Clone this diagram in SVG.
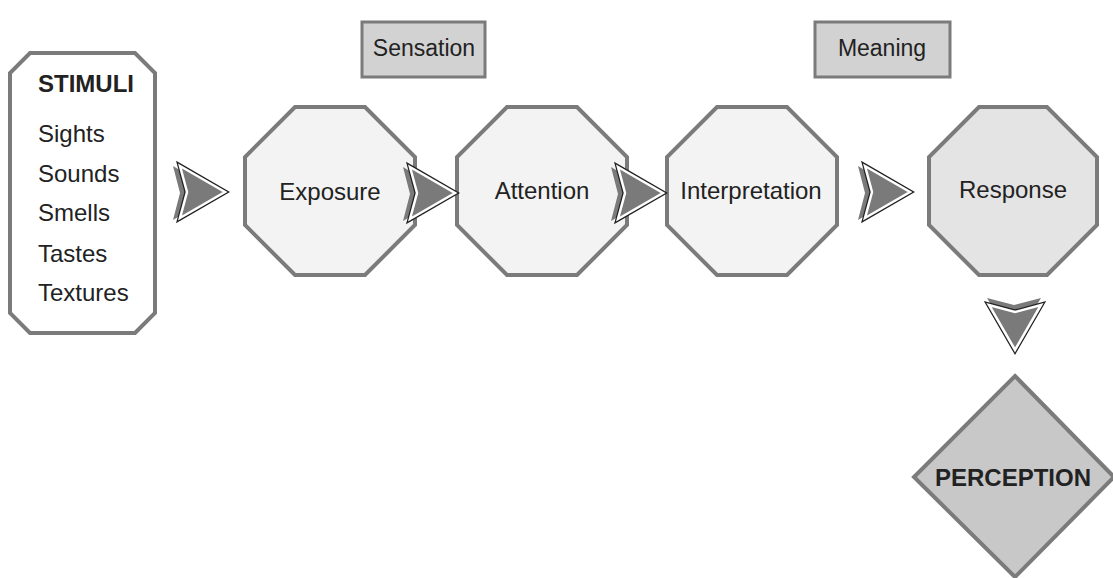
<svg xmlns="http://www.w3.org/2000/svg" width="1113" height="578" viewBox="0 0 1113 578">
  <defs>
    <style>
      .lbl { font-family: "Liberation Sans", Arial, sans-serif; font-size: 24px; fill: #222; }
      .bold { font-weight: bold; }
      .mid { text-anchor: middle; }
      .oct { fill: #f3f3f3; stroke: #7b7b7b; stroke-width: 4; }
      .oct.dark { fill: #e4e4e4; }
      .tag { fill: #d2d2d2; stroke: #7b7b7b; stroke-width: 3; }
      .shadow { fill: #7a7a7a; }
      .rim { fill: none; stroke: #222; stroke-width: 5; stroke-linejoin: miter; }
      .head { fill: #7a7a7a; stroke: #fff; stroke-width: 2.5; stroke-linejoin: miter; }
    </style>
    <!-- chevron pointing right, tip at origin -->
    <g id="chev">
      <polygon class="shadow" points="-52,-26 -7,1 -52,28 -45,1"/>
      <polygon class="rim" points="-45,-26 0,0 -45,26 -38,0"/>
      <polygon class="head" points="-45,-26 0,0 -45,26 -38,0"/>
    </g>
  </defs>

  <rect width="1113" height="578" fill="#fff"/>

  <g id="stimuli">
    <polygon points="30,53 135,53 155,73 155,313 135,333 30,333 10,313 10,73" fill="#fff" stroke="#7b7b7b" stroke-width="4"/>
    <text class="lbl bold" x="38" y="92">STIMULI</text>
    <text class="lbl" x="38" y="142">Sights</text>
    <text class="lbl" x="38" y="182">Sounds</text>
    <text class="lbl" x="38" y="221">Smells</text>
    <text class="lbl" x="38" y="262">Tastes</text>
    <text class="lbl" x="38" y="301">Textures</text>
  </g>

  <g id="sensation">
    <rect class="tag" x="362" y="22" width="123" height="55"/>
    <text class="lbl mid" x="424" y="56" style="font-size:23px">Sensation</text>
  </g>

  <g id="meaning">
    <rect class="tag" x="815" y="22" width="135" height="55"/>
    <text class="lbl mid" x="882" y="56" style="font-size:23px">Meaning</text>
  </g>

  <g id="exposure">
    <polygon class="oct" points="295,107 365,107 415,157 415,225 365,275 295,275 245,225 245,157"/>
    <text class="lbl mid" x="330" y="200">Exposure</text>
  </g>

  <g id="attention">
    <polygon class="oct" points="507,107 577,107 627,157 627,225 577,275 507,275 457,225 457,157"/>
    <text class="lbl mid" x="542" y="199">Attention</text>
  </g>

  <g id="interpretation">
    <polygon class="oct" points="717,107 787,107 837,157 837,225 787,275 717,275 667,225 667,157"/>
    <text class="lbl mid" x="751" y="199">Interpretation</text>
  </g>

  <g id="response">
    <polygon class="oct dark" points="979,107 1047,107 1097,157 1097,225 1047,275 979,275 929,225 929,157"/>
    <text class="lbl mid" x="1013" y="198">Response</text>
  </g>

  <g id="perception">
    <polygon points="1015,376 1114,477 1015,577 914,477" fill="#c8c8c8" stroke="#7b7b7b" stroke-width="4"/>
    <text class="lbl bold mid" x="1013" y="486">PERCEPTION</text>
  </g>

  <!-- connectors drawn last so the chevrons sit over the node borders -->
  <g id="connectors">
    <use href="#chev" x="225" y="192"/>
    <use href="#chev" x="455" y="193"/>
    <use href="#chev" x="663" y="193"/>
    <use href="#chev" x="910" y="192"/>
    <use href="#chev" transform="translate(1015,350) rotate(90)"/>
  </g>
</svg>
